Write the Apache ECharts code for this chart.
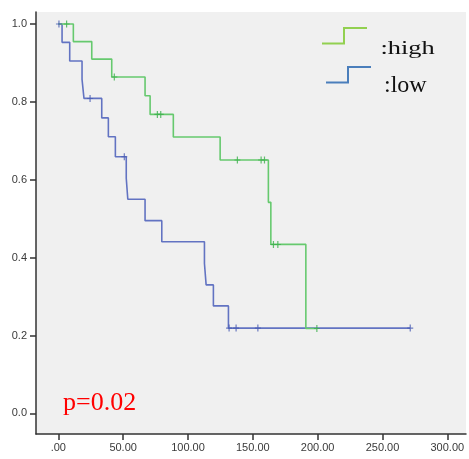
<!DOCTYPE html>
<html><head><meta charset="utf-8">
<script src="https://cdn.jsdelivr.net/npm/echarts@6/dist/echarts.min.js"></script>
<style>html,body{margin:0;padding:0;background:#fff}#c{width:469px;height:459px}</style>
</head><body><div id="c"></div>
<script>
// High group (green) step curve: event times and survival after each event
const highTimes = [0, 11.6, 25.8, 41.2, 66.9, 70.8, 88.7, 124.8, 162.0, 163.9, 190.9, 199.4];
const highSurv  = [1.0, 0.955, 0.910, 0.864, 0.816, 0.768, 0.710, 0.651, 0.542, 0.434, 0.218, 0.218];
const highCensorT = [6.4, 43.2, 76.4, 79.0, 138.1, 156.4, 159.0, 165.9, 169.3, 199.4];
const highCensorS = [1.0, 0.864, 0.768, 0.768, 0.651, 0.651, 0.651, 0.434, 0.434, 0.218];
// Low group (blue)
const lowTimes = [0, 2.9, 8.8, 18.3, 19.8, 33.5, 38.6, 44.0, 52.4, 53.6, 66.9, 79.8, 112.7, 114.0, 119.6, 131.2, 271.4];
const lowSurv  = [1.0, 0.953, 0.905, 0.858, 0.809, 0.759, 0.7105, 0.659, 0.604, 0.550, 0.495, 0.441, 0.385, 0.330, 0.276, 0.219, 0.219];
const lowCensorT = [0.5, 24.5, 50.9, 131.7, 137.1, 153.9, 271.4];
const lowCensorS = [1.0, 0.809, 0.659, 0.219, 0.219, 0.219, 0.219];
// Axis ticks
const xTicks = [0, 50, 100, 150, 200, 250, 300];
const xTickLabels = ['.00', '50.00', '100.00', '150.00', '200.00', '250.00', '300.00'];
const yTicks = [0, 0.2, 0.4, 0.6, 0.8, 1.0];
const yTickLabels = ['0.0', '0.2', '0.4', '0.6', '0.8', '1.0'];
const legendLabels = [':high', ':low'];
const pText = 'p=0.02';

const zip = (a, b) => a.map((v, i) => [v, b[i]]);
const plus = 'path://M-0.6,-4H0.6V-0.6H3V0.6H0.6V4H-0.6V0.6H-3V-0.6H-0.6Z';
const serif = '"Liberation Serif", "DejaVu Serif", serif';

const chart = echarts.init(document.getElementById('c'), null, {renderer: 'canvas'});
const axisCommon = {
  axisLine: {onZero: false, lineStyle: {color: '#333', width: 1.5}},
  axisTick: {show: true, length: 6, lineStyle: {color: '#333', width: 1.5}},
  splitLine: {show: false}
};
chart.setOption({
  animation: false,
  backgroundColor: '#fff',
  grid: {left: 36, top: 12, right: 3, bottom: 25, show: true, backgroundColor: '#f0f0f0', borderWidth: 0},
  xAxis: Object.assign({}, axisCommon, {
    type: 'value', min: -17.2, max: 314.4,
    axisTick: Object.assign({}, axisCommon.axisTick, {customValues: xTicks}),
    axisLabel: {customValues: xTicks, margin: 8, color: '#3a3a3a', fontFamily: 'Liberation Sans, Arial', fontSize: 11,
      formatter: v => xTickLabels[xTicks.indexOf(Math.round(v))] || ''}
  }),
  yAxis: Object.assign({}, axisCommon, {
    type: 'value', min: -0.053, max: 1.031,
    axisTick: Object.assign({}, axisCommon.axisTick, {customValues: yTicks}),
    axisLabel: {customValues: yTicks, margin: 9, color: '#3a3a3a', fontFamily: 'Liberation Sans, Arial', fontSize: 11,
      formatter: v => yTickLabels[yTicks.findIndex(t => Math.abs(t - v) < 1e-6)] || ''}
  }),
  series: [
    {type: 'line', step: 'end', data: zip(highTimes, highSurv), symbol: 'none',
      lineStyle: {color: '#66c96e', width: 1.6}, z: 3},
    {type: 'line', step: 'end', data: zip(lowTimes, lowSurv), symbol: 'none',
      lineStyle: {color: '#6273c2', width: 1.6}, z: 2},
    {type: 'scatter', data: zip(highCensorT, highCensorS), symbol: plus, symbolSize: [6, 7],
      itemStyle: {color: '#3cb04c'}, z: 4},
    {type: 'scatter', data: zip(lowCensorT, lowCensorS), symbol: plus, symbolSize: [6, 7],
      itemStyle: {color: '#4a5cb4'}, z: 4}
  ],
  graphic: [
    {type: 'polyline', shape: {points: [[322, 43.5], [344, 43.5], [344, 28], [367, 28]]},
      style: {stroke: '#92d050', lineWidth: 2, fill: null}},
    {type: 'polyline', shape: {points: [[326, 82.5], [348, 82.5], [348, 67], [371, 67]]},
      style: {stroke: '#4a7ebb', lineWidth: 2, fill: null}},
    {type: 'text', x: 380.5, y: 39, scaleX: 1.1, scaleY: 0.82,
      style: {text: legendLabels[0], font: '24px ' + serif, fill: '#111', verticalAlign: 'top'}},
    {type: 'text', x: 384, y: 73.5,
      style: {text: legendLabels[1], font: '24px ' + serif, fill: '#111', verticalAlign: 'top'}},
    {type: 'text', x: 63, y: 390,
      style: {text: pText, font: '26px ' + serif, fill: '#ff0000', verticalAlign: 'top'}}
  ]
});
</script></body></html>
